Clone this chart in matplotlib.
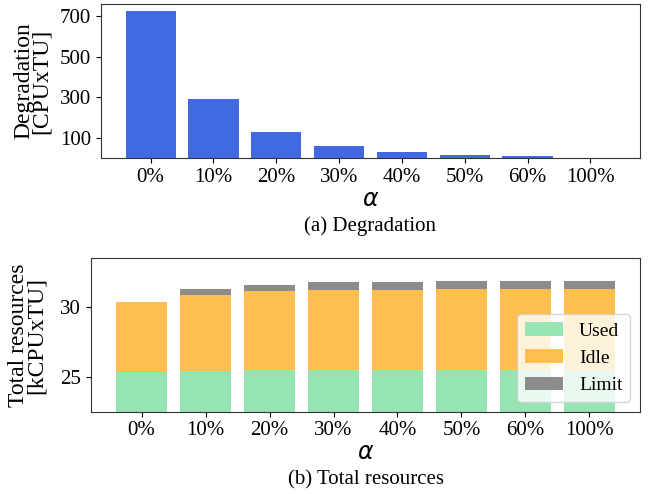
import matplotlib.pyplot as plt
import numpy as np

plt.rcParams['font.family'] = 'serif'
plt.rcParams['font.serif'] = ['Liberation Serif', 'DejaVu Serif']
plt.rcParams['mathtext.fontset'] = 'dejavusans'

# alpha settings on the x axis
alphas = ['0%', '10%', '20%', '30%', '40%', '50%', '60%', '100%']

# degradation per alpha [CPUxTU]
degradation = [725, 293, 128, 61, 30, 16, 8, 1]

# resource breakdown per alpha [kCPUxTU]
used = [25.38, 25.45, 25.50, 25.52, 25.52, 25.52, 25.52, 25.52]
idle = [4.98, 5.45, 5.63, 5.68, 5.70, 5.76, 5.76, 5.78]
limit = [0.00, 0.38, 0.47, 0.58, 0.61, 0.57, 0.59, 0.60]

W, H = 654, 494
fig = plt.figure(figsize=(W / 100, H / 100), dpi=100)

def px_axes(left, right, top, bottom):
    return fig.add_axes([left / W, 1 - bottom / H, (right - left) / W, (bottom - top) / H])

def caption(ax, text, y_px):
    x_fig = ax.get_position().x0 + ax.get_position().width / 2
    fig.text(x_fig, 1 - y_px / H, text, ha='center', va='center', fontsize=15)

x = np.arange(len(alphas))

# (a) degradation
ax1 = px_axes(101, 640, 4, 158)
ax1.bar(x, degradation, width=0.8, color='royalblue')
ax1.set_xticks(x)
ax1.set_xticklabels(alphas)
ax1.set_yticks([100, 300, 500, 700])
ax1.tick_params(labelsize=15)
ax1.set_ylabel('Degradation\n[CPUxTU]', fontsize=17, linespacing=0.8, labelpad=6)
ax1.set_xlabel(r'$\alpha$', fontsize=17, labelpad=2)
caption(ax1, '(a) Degradation', 226)

# (b) total resources, stacked
ax2 = px_axes(91, 640, 258.5, 411.7)
used = np.array(used)
idle = np.array(idle)
limit = np.array(limit)
ax2.bar(x, used, width=0.8, color='#97e4b3', label='Used')
ax2.bar(x, idle, width=0.8, bottom=used, color='#ffbf4f', label='Idle')
ax2.bar(x, limit, width=0.8, bottom=used + idle, color='#8c8c8c', label='Limit')
ax2.set_ylim(bottom=22.5)
ax2.set_xticks(x)
ax2.set_xticklabels(alphas)
ax2.set_yticks([25, 30])
ax2.tick_params(labelsize=15)
ax2.set_ylabel('Total resources\n[kCPUxTU]', fontsize=17, linespacing=0.8, labelpad=10)
ax2.set_xlabel(r'$\alpha$', fontsize=17, labelpad=2)
caption(ax2, '(b) Total resources', 480)
ax2.legend(loc='lower right', fontsize=14)

for ax in (ax1, ax2):
    for s in ax.spines.values():
        s.set_color('#333333')

fig.savefig('out.png', dpi=100)
